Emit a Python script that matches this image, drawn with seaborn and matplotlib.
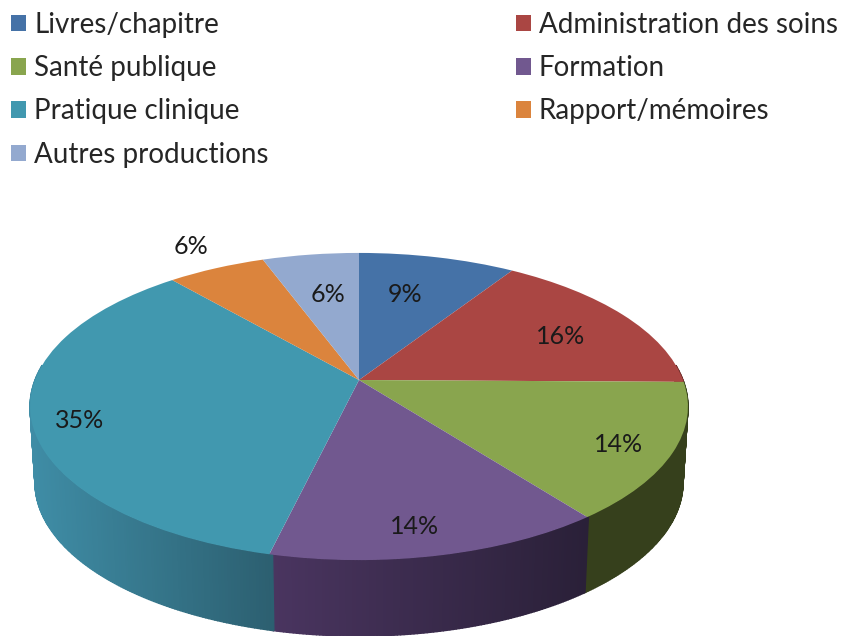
import numpy as np
import matplotlib
matplotlib.use('Agg')
import matplotlib.pyplot as plt
from matplotlib.patches import Patch, Polygon
from matplotlib.path import Path
from matplotlib.transforms import Transform
import seaborn as sns

# Données
categories = ['Livres/chapitre', 'Administration des soins', 'Santé publique',
              'Formation', 'Pratique clinique', 'Rapport/mémoires', 'Autres productions']
values = [9.1, 16.1, 14.4, 14.1, 35.0, 5.7, 5.6]
labels = ['9%', '16%', '14%', '14%', '35%', '6%', '6%']
colors = ['#4572A7', '#AA4643', '#89A54E', '#71588F', '#4198AF', '#DB843D', '#93A9CF']
side_light = ['#3a5f8a', '#8a3836', '#36401c', '#4a3560', '#3f8da6', '#b06a30', '#7688a6']
side_dark = ['#2f4d70', '#6e2d2b', '#36401c', '#2a2038', '#2c5f70', '#8f5628', '#5f6e87']
label_pos = [(405, 295), (561, 336), (619, 445), (415, 527), (80, 421), (191, 247), (328, 294)]

# Géométrie de la perspective (pixels)
CX, CY = 359, 380
A, B, K = 324, 149, 0.1726
DEPTH = 76


class Perspective(Transform):
    input_dims = output_dims = 2
    has_inverse = False

    def transform_non_affine(self, xy):
        xy = np.asarray(xy, dtype=float)
        w = 1 + K * xy[:, 1]
        return np.column_stack([CX + A * xy[:, 0] / w, CY - B * xy[:, 1] / w])

    def transform_path_non_affine(self, path):
        return Path(self.transform_non_affine(path.vertices), path.codes)


sns.set_theme(style='white')
plt.rcParams['font.family'] = ['Lato', 'DejaVu Sans']

fig, ax = plt.subplots(figsize=(8.45, 6.36), dpi=100)
ax.set_position([0, 0, 1, 1])

palette = sns.color_palette(colors)
wedges, _ = ax.pie(values, colors=palette, startangle=90, counterclock=False, frame=True,
                   wedgeprops={'linewidth': 0})
ax.set_aspect('auto')
ax.set_xlim(0, 845)
ax.set_ylim(636, 0)
ax.axis('off')

persp = Perspective()


def low(r):
    return (CX + (r[0] - CX) * 0.985, r[1] + DEPTH)


# Côté du cylindre : dégradé de gauche à droite dans chaque part
for wedge, light, dark in zip(wedges, side_light, side_dark):
    t1, t2 = sorted((wedge.theta1, wedge.theta2))
    angles = np.radians(np.arange(t1, t2 + 0.5, 0.5))
    rim = persp.transform_non_affine(np.column_stack([np.cos(angles), np.sin(angles)]))
    c0 = np.array(matplotlib.colors.to_rgb(light))
    c1 = np.array(matplotlib.colors.to_rgb(dark))
    span = max(rim[:, 0].max() - rim[:, 0].min(), 1)
    for i in range(len(rim) - 1):
        if min(np.sin(angles[i]), np.sin(angles[i + 1])) > 0.1:
            continue
        p, q = rim[i], rim[i + 1]
        mix = (p[0] - rim[:, 0].min()) / span
        shade = c0 * (1 - mix) + c1 * mix
        ax.add_patch(Polygon([p, q, low(q), low(p)], closed=True, facecolor=shade,
                             edgecolor=shade, linewidth=1.0, zorder=1))

for wedge in wedges:
    wedge.set_transform(persp + ax.transData)
    wedge.set_zorder(2)

for txt, (x, y) in zip(labels, label_pos):
    ax.text(x, y, txt, ha='center', va='center', fontsize=18, color='#1a1a1a', zorder=3)

# Légende en deux colonnes
order = [0, 2, 4, 6, 1, 3, 5]
handles = [Patch(facecolor=colors[i], edgecolor='none', label=categories[i]) for i in order]
ax.legend(handles=handles, ncols=2, loc='upper left', bbox_to_anchor=(11 / 845, 1 - 12 / 636),
          frameon=False, fontsize=20, handlelength=0.54, handleheight=0.54,
          handletextpad=0.29, labelspacing=0.62, columnspacing=8.9, borderpad=0,
          borderaxespad=0, labelcolor='#262626')

fig.savefig('out.png', dpi=100)
